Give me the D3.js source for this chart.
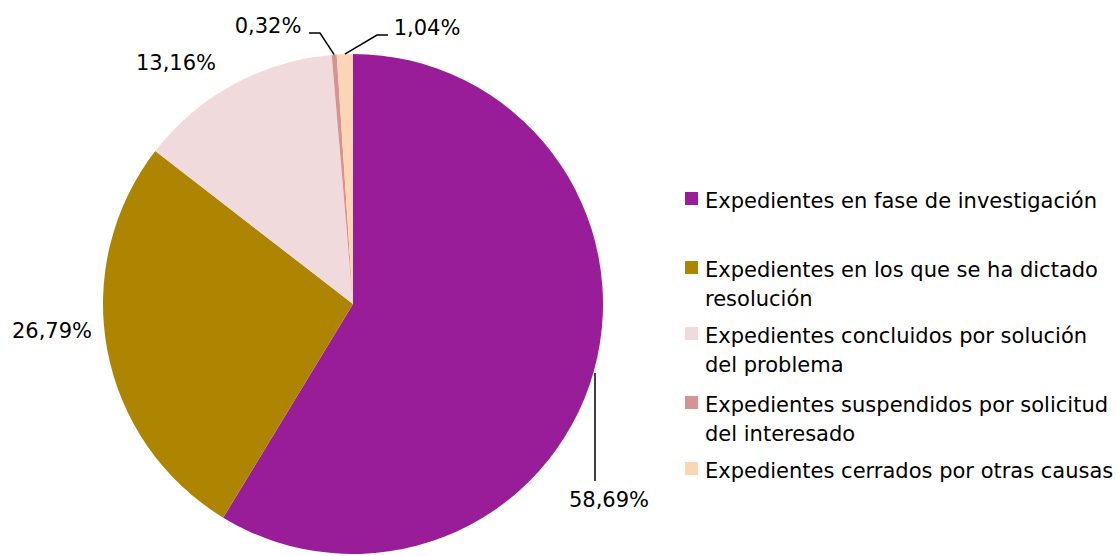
<!DOCTYPE html>
<html><head><meta charset="utf-8">
<script src="https://cdn.jsdelivr.net/npm/d3@7"></script>
<style>body{margin:0;background:#fff;} text{font-family:"DejaVu Sans",sans-serif;}</style>
</head><body><svg id="c" width="1117" height="556"></svg>
<script>
const categories = ["Expedientes en fase de investigación","Expedientes en los que se ha dictado resolución","Expedientes concluidos por solución del problema","Expedientes suspendidos por solicitud del interesado","Expedientes cerrados por otras causas"];
const values = [58.69, 26.79, 13.16, 0.32, 1.04];
const labels = ["58,69%","26,79%","13,16%","0,32%","1,04%"];
const legendLines = [["Expedientes en fase de investigación"],["Expedientes en los que se ha dictado","resolución"],["Expedientes concluidos por solución","del problema"],["Expedientes suspendidos por solicitud","del interesado"],["Expedientes cerrados por otras causas"]];
const colors = ["#991D98","#AD8500","#F1DADB","#D99294","#FCD5B4"];

const svg = d3.select("#c");
const cx = 353, cy = 304, R = 250;
const pie = d3.pie().sort(null).value(d=>d)(values);
const arc = d3.arc().innerRadius(0).outerRadius(R);
const g = svg.append("g").attr("transform",`translate(${cx},${cy})`);
g.selectAll("path").data(pie).join("path").attr("d",arc).attr("fill",(d,i)=>colors[i]);

const fs = 21;
const lab = [
  {x:609,y:507, line:[[595,373],[595,481]]},
  {x:52,y:338},
  {x:176,y:70},
  {x:268,y:33, line:[null,[320,33],[309,33]]},
  {x:427,y:35, line:[null,[377,35],[388,35]]}
];
const outer = d3.arc().innerRadius(R).outerRadius(R);
lab.forEach((l,i)=>{
  svg.append("text").attr("x",l.x).attr("y",l.y).attr("text-anchor","middle")
    .attr("font-size",fs).attr("fill","#000").text(labels[i]);
  if(l.line){
    let pts = l.line.slice();
    if(pts[0]===null){ const c = outer.centroid(pie[i]); pts[0]=[c[0]+cx,c[1]+cy]; }
    svg.append("path").attr("d",d3.line()(pts)).attr("fill","none").attr("stroke","#000").attr("stroke-width",1.5);
  }
});

const lb = [208, 277, 343, 412, 478];
legendLines.forEach((lines,i)=>{
  svg.append("rect").attr("x",685).attr("y",lb[i]-16).attr("width",13).attr("height",13).attr("fill",colors[i]);
  lines.forEach((t,j)=>{
    svg.append("text").attr("x",705).attr("y",lb[i]+j*28.5).attr("font-size",fs).attr("fill","#000").text(t);
  });
});
</script></body></html>
